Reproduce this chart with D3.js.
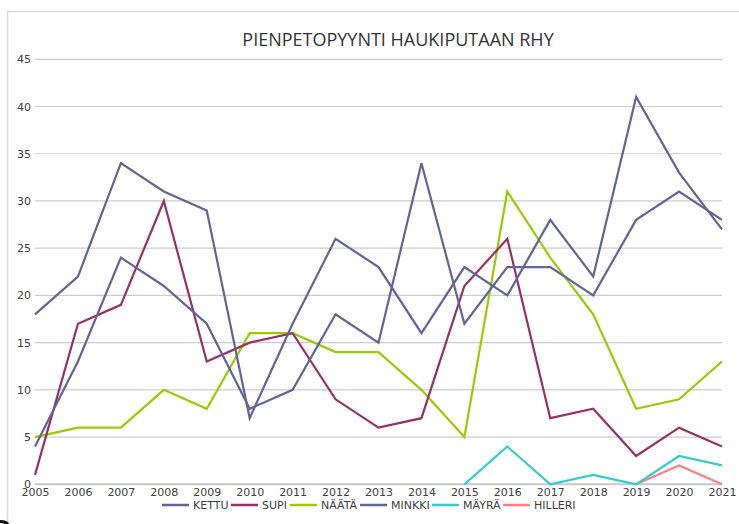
<!DOCTYPE html>
<html><head><meta charset="utf-8">
<script src="https://cdn.jsdelivr.net/npm/d3@7"></script>
<style>html,body{margin:0;padding:0;background:#fff;overflow:hidden}</style>
</head><body>
<svg id="chart" width="739" height="524"></svg>
<script>
const years = ["2005","2006","2007","2008","2009","2010","2011","2012","2013","2014","2015","2016","2017","2018","2019","2020","2021"];
const yTicks = [0,5,10,15,20,25,30,35,40,45];
const kettu  = [18,22,34,31,29,7,17,26,23,16,23,20,28,22,41,33,27];
const supi   = [1,17,19,30,13,15,16,9,6,7,21,26,7,8,3,6,4];
const naata  = [5,6,6,10,8,16,16,14,14,10,5,31,24,18,8,9,13];
const minkki = [4,13,24,21,17,8,10,18,15,34,17,23,23,20,28,31,28];
const mayra  = [null,null,null,null,null,null,null,null,null,null,0,4,0,1,0,3,2];
const hilleri= [null,null,null,null,null,null,null,null,null,null,null,null,null,null,0,2,0];
const seriesNames = ["KETTU","SUPI","NÄÄTÄ","MINKKI","MÄYRÄ","HILLERI"];
const seriesColors = ["#62639b","#9b2f62","#99cc00","#62639b","#33cccc","#ff8080"];
const seriesValues = [kettu, supi, naata, minkki, mayra, hilleri];
const title = "PIENPETOPYYNTI HAUKIPUTAAN RHY";

const svg = d3.select("#chart");
const x = d3.scalePoint().domain(years).range([35, 722]);
const y = d3.scaleLinear().domain([0,45]).range([484.3, 59.3]);

// outer frame
svg.append("path").attr("d","M7.5,524 L7.5,11.5 L739,11.5").attr("fill","none").attr("stroke","#d9d9d9").attr("stroke-width",1.5);

// title
svg.append("text").attr("x",398).attr("y",46).attr("text-anchor","middle")
  .attr("font-family","'Open Sans', 'Noto Sans', sans-serif").attr("font-size",18).attr("fill","#333")
  .text(title);

// gridlines
const grid = svg.append("g");
grid.selectAll("line").data(yTicks).join("line")
  .attr("x1",35).attr("x2",722)
  .attr("y1",d=>y(d)).attr("y2",d=>y(d))
  .attr("stroke",d=>d===0?"#c8c8c8":"#cccccc").attr("stroke-width",d=>d===0?2:1.2);

// y axis labels
const yAxis = svg.append("g").attr("transform","translate(31,0)")
  .call(d3.axisLeft(y).tickValues(yTicks).tickSize(0).tickPadding(0));
yAxis.select(".domain").remove();
yAxis.selectAll("text").attr("font-family","'DejaVu Sans', sans-serif").attr("font-size",11).attr("fill","#404040");

// x axis labels
const xAxis = svg.append("g").attr("transform","translate(0,488)")
  .call(d3.axisBottom(x).tickSize(0).tickPadding(0));
xAxis.select(".domain").remove();
xAxis.selectAll("text").attr("font-family","'DejaVu Sans', sans-serif").attr("font-size",11).attr("fill","#404040");

// lines
const line = d3.line().defined(d=>d.v!==null).x(d=>x(d.yr)).y(d=>y(d.v));
const drawOrder = [5,4,2,1,3,0];
drawOrder.forEach(i=>{
  const data = years.map((yr,j)=>({yr, v: seriesValues[i][j]}));
  svg.append("path").datum(data).attr("d",line)
    .attr("fill","none").attr("stroke",seriesColors[i]).attr("stroke-width",2.2)
    .attr("stroke-linejoin","miter");
});

// legend
const legendX = [162,231,290,360,432,503];
const lg = svg.append("g");
seriesNames.forEach((n,i)=>{
  lg.append("line").attr("x1",legendX[i]).attr("x2",legendX[i]+27).attr("y1",505).attr("y2",505)
    .attr("stroke",seriesColors[i]).attr("stroke-width",2.5);
  lg.append("text").attr("x",legendX[i]+31).attr("y",509)
    .attr("font-family","'DejaVu Sans', sans-serif").attr("font-size",11).attr("fill","#404040").text(n);
});

// partial glyph at bottom-left edge
svg.append("text").attr("x",-7).attr("y",536).attr("font-family","'DejaVu Sans', sans-serif")
  .attr("font-weight","bold").attr("font-size",22).attr("fill","#111").text("D");
</script>
</body></html>
